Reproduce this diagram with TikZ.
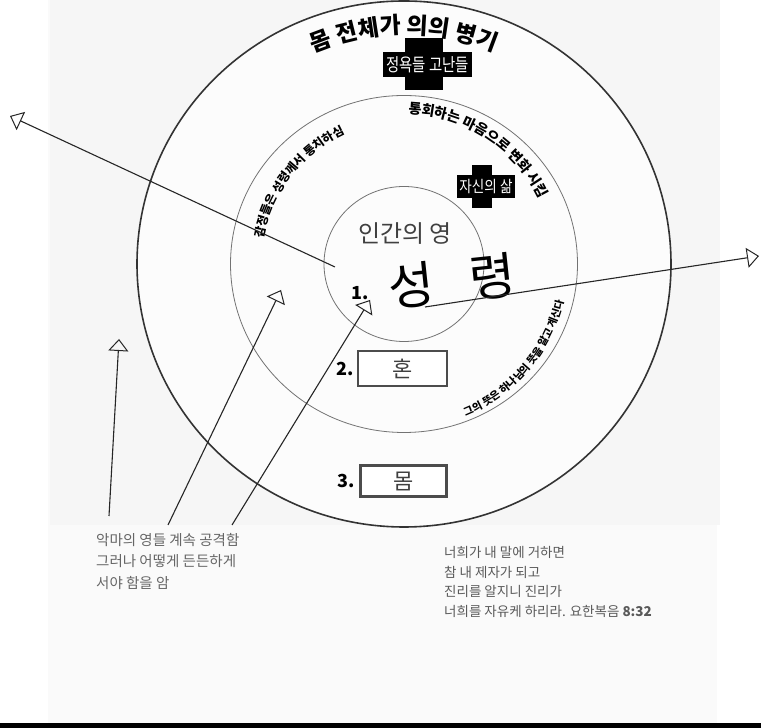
\documentclass[tikz,border=0pt]{standalone}
\usepackage{fontspec}
\usepackage{tikz}
\usetikzlibrary{arrows.meta, decorations.text, positioning, calc}
\newfontfamily\kr{Noto Sans CJK KR}
\def\kb{\kr\bfseries}
\def\fsz#1{\fontsize{#1}{#1}\selectfont}

\begin{document}
\begin{tikzpicture}[x=1pt,y=1pt,
  ring/.style={black!55,line width=0.8pt},
  tip/.style={black!85,line width=1.1pt,-{Triangle[open,length=12pt,width=20pt,line width=1pt]}},
  box/.style={draw=black!70,line width=1.3pt,fill=white,font=\kr\fsz{22},text=black!75}]
\useasboundingbox (0,0) rectangle (761,728);
% paper
\fill[white] (0,0) rectangle (761,728);
\fill[gray!4] (48,5) rectangle (717,728);
\fill[gray!7] (50,203) rectangle (720,728);
\fill[black] (0,0) rectangle (761,5);

\coordinate (C) at (404,464);
\fill[gray!2] (C) ellipse [x radius=267, y radius=263];
\draw[black!80,line width=1.6pt] (C) ellipse [x radius=267, y radius=263];
\draw[ring] (C) ellipse [x radius=173.5, y radius=168.5];
\draw[ring] (C) ellipse [x radius=80, y radius=77.5];

% crosses
\fill (405,638) rectangle (443,690);
\fill (383,651) rectangle (472,676);
\node[text=white,font=\kr\fsz{18},xscale=0.8] (lust) at (427.5,663.5) {정욕들 고난들};
\fill (472,520) rectangle (492,563);
\fill (457,530) rectangle (515,553);
\node[text=white,font=\kr\fsz{16},xscale=0.85] (life) at (486,541.5) {자신의 삶};

% text round the rings
\path[decorate,decoration={text along path,text align=center,text={|\kb\fsz{23}|몸 전체가 의의 병기}}]
  ($(C)+(160:230)$) arc[start angle=160,end angle=20,radius=230];
\path[decorate,decoration={text along path,text align=center,text={|\kb\fsz{14}|통회하는 마음으로 변화 시킴}}]
  ($(C)+(102:150)$) arc[start angle=102,end angle=12,radius=150];
\path[decorate,decoration={text along path,text align=center,text={|\kb\fsz{12}|감정들은 성령께서 통치하심}}]
  ($(C)+(187:143)$) arc[start angle=187,end angle=97,radius=143];
\path[decorate,decoration={text along path,text align=center,text={|\kb\fsz{10.5}|그의 뜻은 하나님의 뜻을 알고 계신다}}]
  ($(C)+(-85:164)$) arc[start angle=-85,end angle=4,radius=164];

\node[font=\kr\fsz{24},text=black!75] (spirit) at (405,494) {인간의 영};
\node[font=\kr\fsz{50},rotate=6] (holy) at (452,447) {성\hspace{36pt}령};
\node[font=\kb\fsz{18}] (one) at (360,435) {1.};

\node[box,minimum width=89,minimum height=35] (hon) at (402.5,359.5) {혼};
\node[font=\kb\fsz{18},inner sep=1pt,left=2pt of hon] (two) {2.};
\node[box,line width=2.8pt,minimum width=86,minimum height=31] (mom) at (403.5,247) {몸};
\node[font=\kb\fsz{18},inner sep=1pt,left=3pt of mom] (three) {3.};

\node[anchor=north west,align=left,inner sep=0,text=black!60,font=\kr\fontsize{14.5}{21.5}\selectfont] (devil) at (96,195)
  {악마의 영들 계속 공격함\\그러나 어떻게 든든하게\\서야 함을 암};
\node[anchor=north west,align=left,inner sep=0,text=black!65,font=\kr\fontsize{13.5}{19.7}\selectfont] (verse) at (444,182)
  {너희가 내 말에 거하면\\참 내 제자가 되고\\진리를 알지니 진리가\\너희를 자유케 하리라. 요한복음 \textbf{8:32}};

% pointers
\coordinate (e1) at (335,461); \coordinate (t1) at (10,612);
\coordinate (e2) at (425,421); \coordinate (t2) at (759,472);
\coordinate (e3) at (232,203); \coordinate (t3) at (370,428);
\coordinate (e4) at (168,203); \coordinate (t4) at (281,438);
\coordinate (e5) at (109,212); \coordinate (t5) at (119,389);
\draw[tip] (e1) -- (t1);
\draw[tip] (e2) -- (t2);
\draw[tip] (e3) -- (t3);
\draw[tip] (e4) -- (t4);
\draw[tip] (e5) -- (t5);
\end{tikzpicture}
\end{document}
